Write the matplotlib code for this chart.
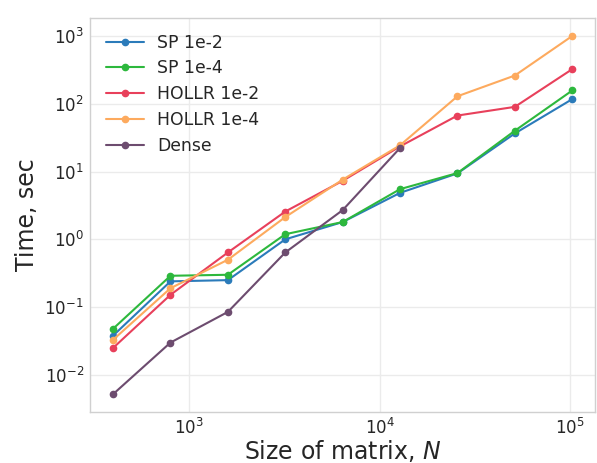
import numpy as np
import matplotlib
matplotlib.use("Agg")
import matplotlib.pyplot as plt
import seaborn as sns

N = [400, 800, 1600, 3200, 6400, 12800, 25600, 51200, 102400]
sp_1e2 = [0.038, 0.24, 0.25, 1.0, 1.8, 4.85, 9.4, 36.5, 117]
sp_1e4 = [0.048, 0.29, 0.30, 1.19, 1.8, 5.5, 9.5, 40, 157]
hollr_1e2 = [0.025, 0.152, 0.64, 2.57, 7.3, 23.5, 67, 90, 324]
hollr_1e4 = [0.033, 0.19, 0.50, 2.13, 7.6, 24.4, 129, 261, 1000]
N_dense = [400, 800, 1600, 3200, 6400, 12800]
dense = [0.0052, 0.030, 0.085, 0.64, 2.7, 22.3]

labels = ["SP 1e-2", "SP 1e-4", "HOLLR 1e-2", "HOLLR 1e-4", "Dense"]
colors = ["#2b7bba", "#2db83d", "#e8405b", "#fdaa5e", "#6d4c6f"]

sns.set_style("whitegrid")
plt.rcParams['font.family'] = ['DejaVu Sans']

fig = plt.figure(figsize=(5.97, 4.63), dpi=100)
ax = fig.add_axes([0.151, 0.110, 0.846, 0.851])

series = [(N, sp_1e2), (N, sp_1e4), (N, hollr_1e2), (N, hollr_1e4), (N_dense, dense)]
for (xs, ys), lab, c in zip(series, labels, colors):
    ax.plot(xs, ys, marker='o', markersize=4.5, linewidth=1.5, color=c, label=lab)

ax.set_xscale('log')
ax.set_yscale('log')
ax.grid(True, which='major', color='#ebebeb', linewidth=1.0)
ax.grid(False, which='minor')
ax.tick_params(which='minor', length=0)
ax.tick_params(which='major', labelsize=12, colors='#262626', length=0, pad=4.5)
for s in ax.spines.values():
    s.set_color('#d0d0d0')
    s.set_linewidth(1.0)

ax.set_xlabel("Size of matrix, $N$", fontsize=17, color='#262626', labelpad=0)
ax.set_ylabel("Time, sec", fontsize=17, color='#262626', labelpad=4)

ax.legend(loc='upper left', fontsize=12.4, frameon=False, handlelength=2.2,
          borderaxespad=0.5, labelspacing=0.45)

fig.savefig("out.png", dpi=100)
